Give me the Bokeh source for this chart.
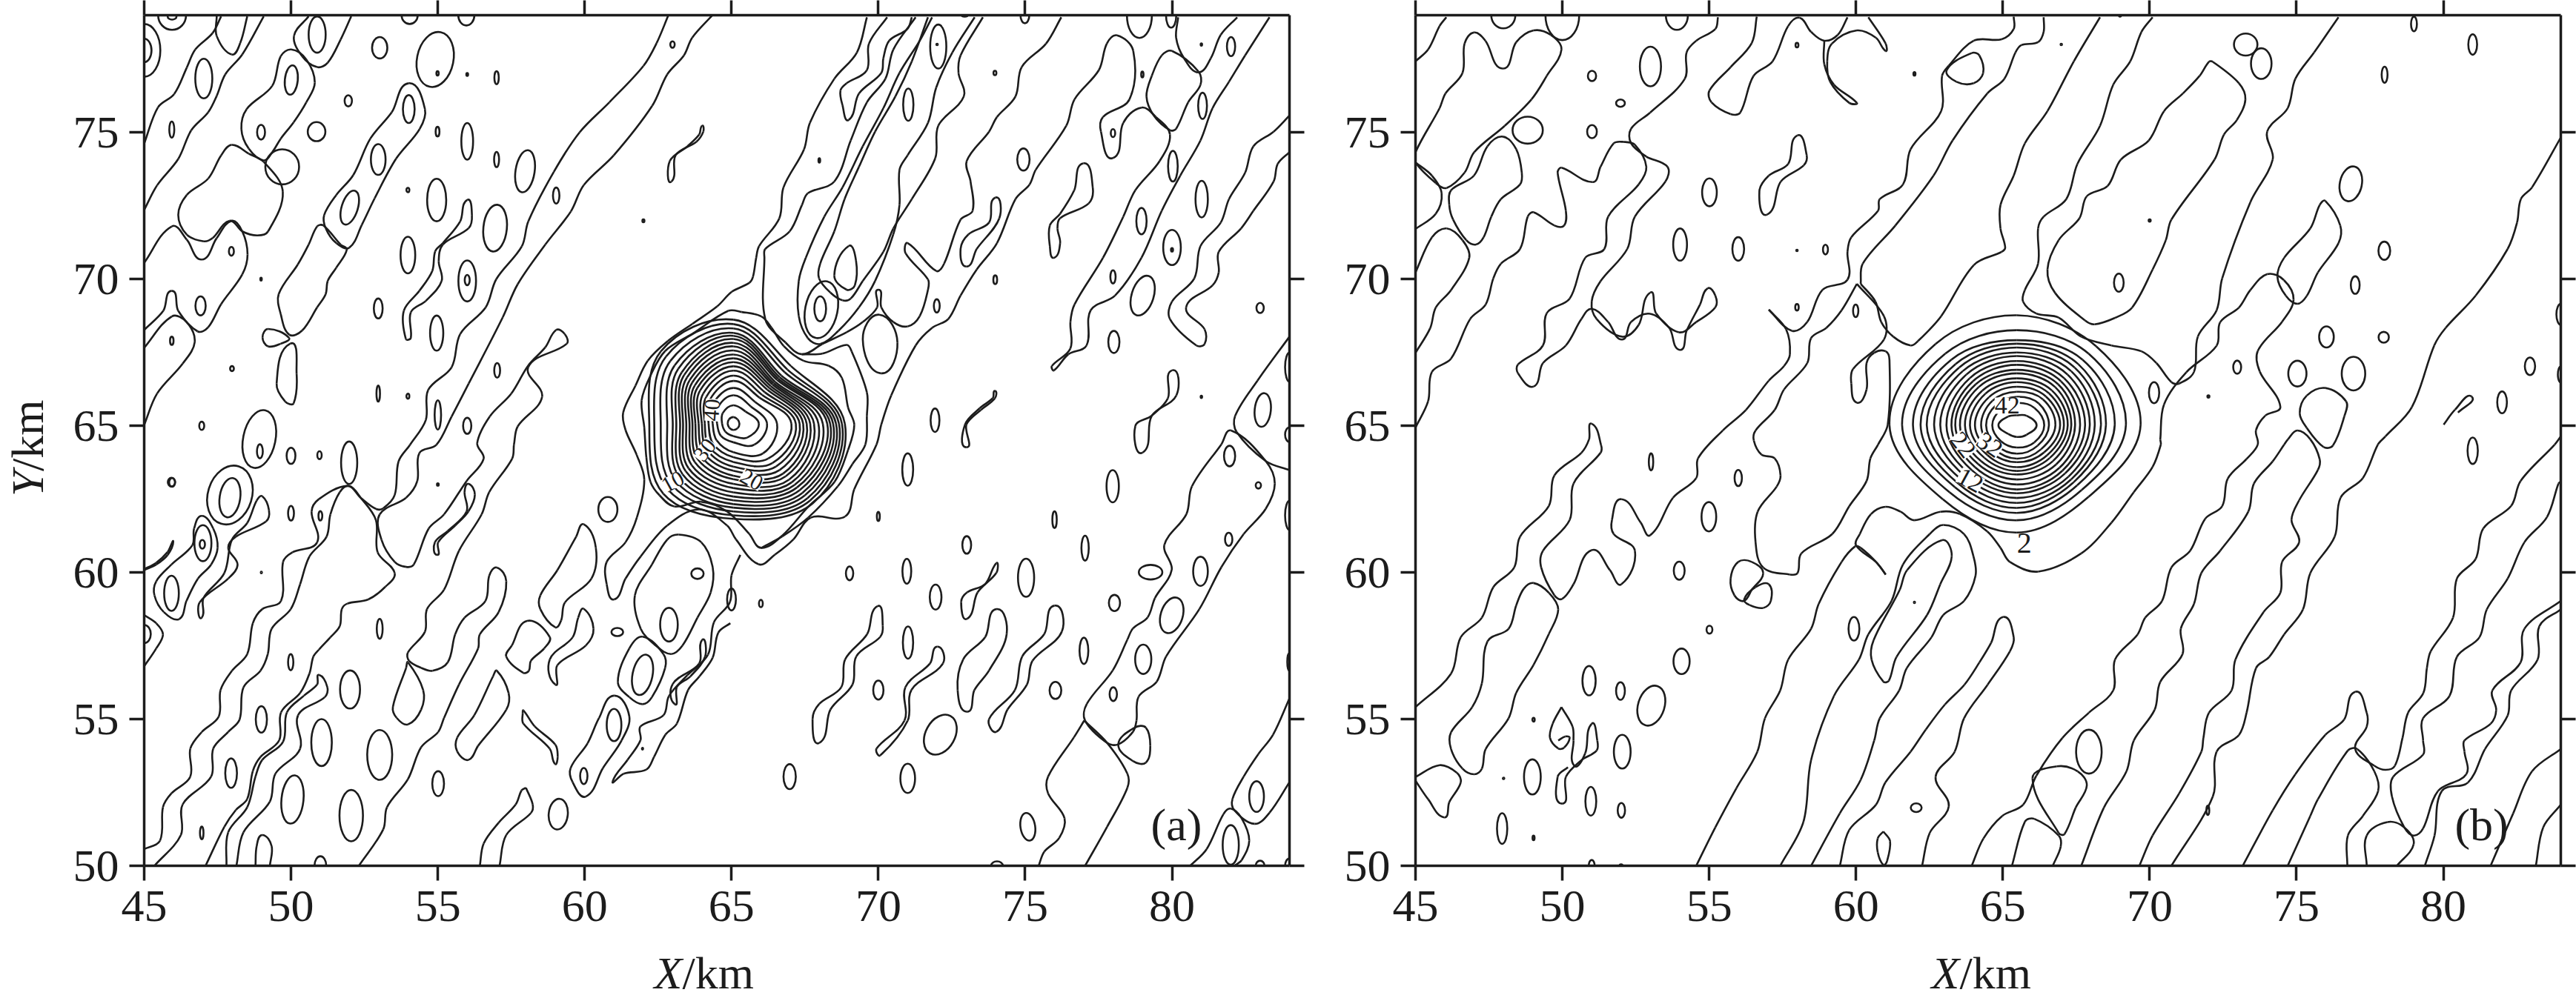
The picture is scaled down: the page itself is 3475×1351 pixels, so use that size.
import math
import re
from bokeh.plotting import figure
from bokeh.core.properties import value
from bokeh.models import ColumnDataSource, FixedTicker, Label, LinearAxis, Range1d
from bokeh.layouts import row, column
from bokeh.embed import file_html
from bokeh.resources import INLINE

X_TICKS = [45, 50, 55, 60, 65, 70, 75, 80]
Y_TICKS = [50, 55, 60, 65, 70, 75]
X_RANGE = (45, 84)
Y_RANGE = (50, 79)
INK = "#1c1c1c"
FONT = "Liberation Serif"

# ---- panel (a): core rings, radii (km) per azimuth from the centre
A_CORE = (65.06, 65.07)
A_R_E = [.21,.87,1.15,1.49,1.98,2.13,2.26,2.38,2.5,2.62,2.75,2.9,3.05,3.2,3.3,3.4,3.5,3.6,3.7,3.8]
A_R_NE = [.21,.59,.84,1.05,1.26,1.39,1.52,1.64,1.73,1.81,1.89,1.95,2.02,2.11,2.17,2.24,2.32,2.48,2.61,2.78]
A_R_N = [.23,.63,.97,1.22,1.46,1.64,1.81,1.96,2.10,2.23,2.36,2.50,2.64,2.76,2.89,3.0,3.1,3.25,3.4,3.55]
A_R_NW = [.21,.51,.76,.97,1.14,1.30,1.45,1.60,1.73,1.85,1.98,2.10,2.23,2.36,2.48,2.65,2.82,3.03,3.24,3.49]
A_R_W = [.19,.38,.55,.70,.84,.97,1.07,1.18,1.29,1.39,1.49,1.60,1.71,1.81,1.94,2.06,2.25,2.47,2.69,2.86]
A_R_SW = [.19,.38,.59,.80,.97,1.14,1.26,1.41,1.56,1.71,1.85,2.0,2.15,2.29,2.44,2.59,2.76,2.95,3.16,3.37]
A_R_S = [.21,.42,.63,.97,1.14,1.30,1.46,1.60,1.77,1.89,2.05,2.19,2.34,2.48,2.61,2.74,2.86,2.99,3.12,3.24]
A_R_SE = [.21,.67,1.01,1.43,1.68,1.89,2.06,2.23,2.40,2.53,2.69,2.82,2.95,3.07,3.20,3.33,3.45,3.58,3.70,3.83]

# ---- panel (b): core rings
B_CORE = (65.48, 65.02)
B_R_E = [.67,.93,1.09,1.31,1.47,1.6,1.73,1.85,1.98,2.15,2.32,2.48,2.65,2.86,3.03,3.33,3.71,4.21]
B_R_NE = [.46,.84,1.05,1.25,1.39,1.54,1.68,1.84,1.98,2.12,2.27,2.44,2.61,2.78,2.95,3.16,3.45,3.81]
B_R_N = [.34,.76,.97,1.14,1.31,1.47,1.6,1.77,1.89,2.06,2.19,2.36,2.48,2.65,2.78,2.9,3.24,3.75]
B_R_NW = [.42,.77,.99,1.18,1.35,1.52,1.67,1.84,1.98,2.12,2.27,2.44,2.61,2.78,2.95,3.16,3.45,3.92]
B_R_W = [.63,.84,1.05,1.22,1.43,1.6,1.77,1.94,2.1,2.23,2.4,2.61,2.82,3.07,3.28,3.54,3.91,4.34]
B_R_SW = [.42,.77,.97,1.12,1.28,1.43,1.57,1.73,1.87,2.02,2.17,2.32,2.48,2.65,2.82,2.99,3.24,3.57]
B_R_S = [.4,.76,.97,1.14,1.26,1.43,1.56,1.68,1.85,2.02,2.19,2.32,2.48,2.65,2.82,2.99,3.24,3.66]
B_R_SE = [.46,.83,.99,1.16,1.31,1.45,1.58,1.73,1.89,2.05,2.19,2.32,2.48,2.61,2.74,2.9,3.12,3.45]

# ---- panel (a): small closed islands (x, y, w, h, tilt)
A_ISLANDS = [
(45,77.8,1.1,1.8,0),(45,77.8,.5,.8,0),(45.95,79,.95,1.0,0),(45.95,78.95,.3,.2,0),(47.03,76.84,.58,1.35,0),(50.01,76.79,.44,1.0,-.1),
(50.89,78.34,.58,1.24,0),(53.02,77.89,.52,.73,0),(54.04,79,.55,.6,0),(55.97,79,.55,.7,0),(54.91,77.49,1.24,1.9,-.2),(54.99,77.02,.08,.15,0),
(56,76.98,.06,.1,0),(57,76.87,.15,.45,0),(51.95,76.08,.25,.38,0),(45.94,75.1,.17,.55,0),(48.98,75.01,.27,.5,0),(50.87,75.03,.6,.65,0),
(54.99,75.03,.13,.33,0),(56,74.7,.4,1.25,0),(57,74.08,.17,.52,0),(57.97,73.68,.65,1.45,-.15),(59.03,72.85,.22,.55,0),(62,71.99,.07,.1,0),
(47.97,70.95,.17,.3,0),(48.98,70,.05,.1,0),(46.92,69.09,.35,.65,0),(45.94,67.9,.12,.28,0),(47.99,66.95,.13,.17,0),(49.7,73.83,1.15,1.2,0),
(54.01,75.8,.4,.95,0),(52.97,74.08,.5,1.05,0),(52.0,72.44,.55,1.2,-.3),(53.98,73.04,.1,.15,0),(54.96,72.7,.65,1.45,0),(56.95,71.74,.8,1.6,-.1),
(53.98,70.82,.5,1.25,0),(56,69.94,.6,1.4,0),(56,69.97,.17,.35,0),(52.97,69,.3,.68,0),(54.96,68.16,.45,1.2,0),(57.02,66.89,.2,.5,0),
(52.97,66.1,.12,.55,0),(53.98,66.01,.1,.17,0),(46.96,65,.17,.28,0),(55,65.37,.22,1.0,0),(56,65,.28,.55,0),(48.92,64.55,1.1,2.0,-.2),
(48.94,64.13,.2,.48,0),(50,63.98,.3,.55,0),(50.97,64,.15,.27,0),(45.93,63.08,.25,.3,0),(51.98,63.74,.55,1.45,0),(47.92,62.64,1.5,2.05,-.3),
(47.92,62.55,.7,1.35,-.15),(47,61,.58,1.23,0),(46.98,60.96,.18,.3,0),(45.93,59.29,.5,1.2,0),(45,57.9,.45,.62,0),(45.95,63.07,.2,.3,0),
(50,62.02,.2,.5,0),(51,61.93,.13,.32,0),(48.99,60,.04,.05,0),(55,63,.06,.08,0),(53.02,58.08,.2,.68,0),(49.99,56.94,.18,.55,0),
(52.01,56.01,.68,1.3,0),(48.99,54.99,.38,.9,0),(51.04,54.2,.7,1.6,0),(53.02,53.78,.85,1.7,0),(47.96,53.16,.4,1.0,0),(50.05,52.26,.75,1.65,-.1),
(52.05,51.71,.8,1.75,0),(46.96,51.12,.12,.43,0),(51,50,.4,.65,0),(60.79,62.15,.65,.85,0),(63.84,59.96,.42,.36,0),(62.87,58.22,.6,1.15,0),
(61.11,57.97,.4,.28,0),(61.97,56.51,.68,1.4,-.2),(61,54.8,.5,1.1,0),(59.97,53.06,.25,.55,0),(61.97,53.99,.04,.06,0),(55.01,52.8,.4,.85,0),
(59.1,51.76,.65,1.05,-.1),(72.04,77.93,.55,1.5,0),(72,78,.05,.05,0),(71.02,75.95,.35,1.1,0),(73.97,77.03,.1,.15,0),(67.99,74.05,.06,.15,0),
(62.99,78,.15,.22,0),(72.94,79,.2,.1,0),(74.99,79,.3,.55,0),(74.94,74.08,.42,.75,0),(78.89,79,.85,1.55,0),(79.97,79,.35,.85,0),
(82.01,77.93,.28,.65,0),(81,78,.05,.08,0),(78.99,76.98,.08,.2,0),(81.04,75.91,.3,.9,0),(77.99,74.98,.15,.27,0),(80.03,73.85,.33,1.05,0),
(81.01,72.73,.42,1.25,0),(78.96,71.98,.35,.9,0),(80,71.08,.6,1.2,0),(80,71.0,.07,.12,0),(77.99,70.08,.18,.45,0),(73.98,69.98,.13,.3,0),
(71.99,69.09,.2,.45,0),(79,69.44,.75,1.4,-.3),(78.02,67.86,.38,.75,0),(83,69.02,.25,.35,0),(68.06,68.96,1.1,1.97,-.2),(68.02,68.99,.4,.85,0),
(71.93,65.19,.3,.8,0),(81,65.99,.05,.08,0),(83.09,65.54,.55,1.15,-.1),(84,67,.3,1.0,0),(84,64.7,.3,.5,0),(84,61.95,.3,1.0,0),(84,56.95,.15,.6,0),
(82.94,62.97,.18,.22,0),(81.96,63.97,.38,.7,0),(77.98,62.94,.42,1.1,0),(81.93,61.13,.25,.45,0),(80.97,60.04,.5,1.0,0),(79.27,60.01,.8,.5,0),
(79.99,58.54,.75,1.25,-.3),(78.04,58.96,.38,.55,0),(79.02,57.04,.55,1.0,0),(78,55.85,.25,.47,0),(77,57.33,.3,.9,0),(76.03,55.98,.4,.58,0),
(77.04,60.83,.25,.85,0),(76,61.8,.15,.57,0),(75.03,59.82,.55,1.3,0),(73.01,60.94,.3,.6,0),(70.97,60.04,.3,.85,0),(71.95,59.16,.4,.85,0),
(71.01,57.61,.35,1.1,0),(70,55.99,.35,.65,0),(69.02,59.97,.25,.47,0),(66,58.94,.13,.25,0),(65,59.08,.3,.75,0),(70,61.91,.1,.32,0),
(71,63.51,.37,1.1,0),(66.98,53.04,.42,.85,0),(71,52.98,.5,1.0,0),(75.09,51.33,.5,.95,.15),(72.11,54.47,1.0,1.45,-.5),(74.04,50,.4,.3,0),
(82,50.71,.55,1.35,0),(82.88,52.36,.5,1.05,0),(83,50,.3,.35,0),(84,50,.3,.5,0),
]

# ---- panel (a): contour lines (km)
A_L01 = [(45,50.57),(45.54,50.86),(45.64,52),(45.93,52.47),(46.57,53.04),(46.57,53.99),(46.96,54.56),(47.54,55.09),(47.6,55.99),(47.99,56.65),(48.51,57.22),(48.7,58.27),(49.02,58.75),(49.66,59.03),(49.73,60.36),(50.05,60.69),(50.89,61.03),(50.7,62.07),(50.95,62.5),(51.92,62.95),(52.37,62.55),(52.89,62.17),(53.14,62.19),(53.53,62.64),(53.66,63.78),(54.05,64.35),(54.59,65.2),(54.67,66.22),(55.47,67),(55.76,68.13),(56.63,69.04),(56.99,70),(57.86,71.12),(58.08,71.97),(58.95,73.66),(59.83,75.01),(60.84,76.03),(62,77.27),(62.45,78.05),(62.85,79)]
A_L02 = [(45,74.62),(45.47,75.86),(46.02,76.31),(46.45,77.21),(46.74,77.83),(47.33,78.39),(47.62,78.96)]
A_L03 = [(45,72.36),(45.44,73.2),(46.16,74.1),(46.6,75.07),(47.18,75.69),(47.47,76.25),(47.76,76.98),(48.34,77.66),(49.07,78.96)]
A_L04 = [(47.47,78.96),(47.47,78.29),(47.98,77.66),(48.27,78.05),(48.51,78.96)]
A_C05 = [(49.07,74.05),(48.56,74.45),(48.31,75.12),(48.49,75.8),(49.36,76.59),(49.65,77.6),(50.01,77.83),(50.52,77.49),(50.81,76.7),(50.52,76.03),(50.09,75.35),(49.65,74.79),(49.36,74.33)]
A_L06 = [(50.6,78.96),(50.1,78.29),(50.38,77.6),(50.89,77.23),(51.25,77.38),(51.69,78.17),(52.05,78.96)]
A_C07 = [(47.98,74.58),(48.56,74.28),(49.07,74),(49.72,72.98),(49.22,71.63),(48.85,71.49),(48.34,71.63),(47.91,71.99),(47.33,71.4),(47.03,71.29),(46.45,71.52),(46.16,72.19),(46.45,72.87),(47.18,73.43),(47.62,74.22)]
A_L08 = [(45,68.27),(45.65,68.92),(45.94,69.6),(46.16,68.92),(46.82,68.22),(47.18,68.36),(47.62,69.15),(48.34,70.16),(48.52,70.84),(48.34,71.63),(47.98,71.99),(47.47,71.4),(46.96,70.67),(46.45,71.35),(45.94,71.8),(45,70.56)]
A_L09 = [(45,67.66),(45.94,68.73),(46.45,68.53),(46.72,67.85),(46.31,67.12),(45.44,66.1),(45,65.03)]
A_C10 = [(51.1,71.83),(51.69,71.18),(51.9,71.01),(51.54,70.39),(51.25,69.94),(51.18,69.49),(50.89,69.04),(50.38,68.25),(49.94,68.11),(49.65,68.81),(49.58,69.49),(50.23,70.5),(50.6,71.18),(50.89,71.8)]
A_C11 = [(54.01,76.68),(54.56,75.8),(54.38,75.12),(53.58,74.11),(52.85,72.76),(52.41,71.85),(51.98,71.07),(51.54,71.23),(51.18,71.74),(51.13,72.19),(51.54,72.87),(52.12,73.55),(52.7,74.79),(53.43,75.69)]
A_C12 = [(56,72.7),(56.16,72.19),(56.05,71.74),(55.17,71.18),(55.03,70.61),(55.13,69.94),(54.59,69.26),(54.08,68.87),(54.08,68),(53.91,67.96),(53.84,68.92),(54.37,69.6),(54.81,70.28),(54.91,70.95),(55.17,71.23),(55.76,71.97)]
A_C13 = [(49.97,67.8),(50.19,66.78),(50.09,65.77),(49.8,65.83),(49.51,66.44)]
A_C14 = [(49.93,68),(49.22,68.3),(49.03,68.02),(49.22,67.71),(49.65,67.8)]
A_L15 = [(47.09,50),(47.73,51.33),(48.12,51.9),(48.51,52.28),(48.7,53.23),(48.96,53.71),(49.6,54.28),(49.66,55.23),(50.31,55.89),(50.63,56.56),(50.76,57.13),(50.95,57.37),(51.34,57.79),(51.66,58.17),(51.73,58.75),(51.92,58.94),(52.63,59.08),(53.21,59.51),(53.53,59.98),(52.95,60.69),(52.89,61.79),(52.37,62.55),(51.98,62.95),(51.66,62.74),(51.34,61.98),(51.21,61.22),(50.63,60.55),(50.31,59.6),(49.99,58.75),(49.34,58.08),(49.21,57.22),(48.96,56.65),(48.38,56.08),(48.25,54.99),(47.86,54.56),(47.35,53.99),(47.28,53.04),(46.31,52.09),(46.25,51.05),(45.35,50)]
A_L16 = [(47.8,50),(47.86,51.14),(48.51,52),(48.79,53.04),(49.02,53.61),(49.73,54.23),(49.86,55.23),(50.44,55.8),(50.89,56.18),(50.95,56.51),(51.24,56.08),(51.15,55.75),(50.24,55.13),(50.31,53.99),(49.47,53.14),(49.28,52.19),(48.38,51.14),(48.14,50)]
A_C17 = [(46.96,58.46),(46.89,58.98),(47.86,59.79),(48.18,60.27),(47.86,60.84),(48.12,61.22),(49.15,61.74),(49.25,62.12),(49.02,62.6),(48.83,62.45),(48.51,61.69),(47.99,61.12),(47.73,59.98),(47.02,59.13)]
A_C18 = [(46.19,58.41),(45.67,58.65),(45.35,59.22),(45.41,59.7),(45.93,60.27),(46.64,60.93),(46.7,61.5),(46.96,61.93),(47.35,61.5),(47.5,60.84),(47.28,60.27),(46.83,59.79),(46.44,59.03)]
A_L19 = [(45,60.08),(45.41,60.27),(45.8,60.6),(45.99,61.05),(45.8,60.7),(45.41,60.33),(45,60.11)]
A_L20 = [(45,58.55),(45.41,58.27),(45.64,57.89),(45.41,57.41),(45,56.8)]
A_L21 = [(48.79,50),(48.83,50.67),(49.02,51.05),(49.34,50.67),(49.28,50)]
A_C22 = [(58.04,58.35),(58.81,57.8),(58.62,57.41),(58.17,56.99),(58.1,56.65),(57.91,56.58),(57.33,57.13),(57.52,57.51)]
A_C23 = [(59.97,61.64),(60.38,60.84),(60.23,59.79),(59.33,58.98),(59.2,58.37),(59,58.13),(58.49,58.75),(58.49,59.22),(59.07,60.08),(59.71,61.22)]
A_C24 = [(59.97,58.76),(60.3,58.08),(60.04,57.51),(59.07,56.84),(59,56.18),(58.81,57.03),(59.59,57.79),(59.78,58.46)]
A_L25 = [(57.59,64.35),(57.72,64.98),(58.55,65.99),(58.08,67),(59.39,67.8),(59.32,68.13),(59.03,68.27),(58.66,67.68),(58.08,67.06),(57.5,66.1),(56.77,65.32),(56.34,64.41),(56.56,63.88),(55.98,63.12),(55.21,61.98),(54.69,61.5),(54.18,60.27),(53.92,60.19),(53.53,60.36),(53.08,61.12),(53.02,61.98),(53.92,62.55),(54.3,63.12),(54.37,64.07),(54.95,64.35),(55.47,65.32),(56.05,66.44),(57.21,68.7),(57.72,69.83),(58.66,71.18),(59.53,72.31),(59.97,73.21),(60.99,74.22),(62.3,75.91),(62.81,76.98),(63.38,77.63),(63.66,78.23),(64.35,79)]
A_L26 = [(57.59,64.35),(57.53,63.88),(56.75,62.74),(56.49,61.98),(55.72,60.74),(55.21,59.41),(54.63,58.75),(54.56,57.98),(53.98,57.27),(54.02,56.99),(54.43,56.75),(54.82,56.65),(55.34,56.94),(55.59,57.89),(55.91,58.46),(56.62,59.03),(56.75,59.89),(57.01,60.17),(57.33,59.7),(57.07,58.65),(56.43,57.89),(56.37,57.41),(55.72,56.18),(55.21,55.04),(55.01,54.56),(54.43,54.04),(53.98,52.95),(53.27,52),(53.14,51.24),(52.31,50)]
A_C27 = [(56.04,63.02),(56.26,62.65),(56.04,62.08),(55.59,61.6),(55.01,61.03),(54.98,60.6),(54.9,61.03),(55.33,61.41),(55.98,62.08),(55.91,62.74)]
A_C28 = [(63.2,61.29),(63.97,61.03),(64.36,60.17),(64.29,59.32),(63.84,58.46),(63.33,57.51),(62.94,57.22),(62.42,57.51),(61.91,58.08),(61.71,59.22),(62.29,60.27),(62.81,61.12)]
A_C29 = [(61.97,57.81),(62.68,57.22),(62.74,56.75),(62.29,55.75),(61.97,55.51),(61.52,55.75),(61.13,56.27),(61.52,57.41)]
A_C30 = [(61,55.8),(61.52,55.09),(61.26,54.28),(60.62,53.33),(60.04,52.36),(59.59,52.85),(59.52,53.33),(60.1,54.18),(60.49,55.04)]
A_C31 = [(64,57.7),(64.1,57.13),(63.6,56.46),(63.14,56.1),(63.07,55.51),(63,56.2),(63.9,56.9)]
A_L32 = [(64.96,58.27),(64.55,57.95),(64.36,57.1),(63.91,56.46),(63.52,55.99),(63.14,54.85),(62.75,54.47),(62.36,53.71),(62.1,53.28),(61.33,53.14),(60.95,52.87),(61.46,53.61),(61.9,54.28),(61.9,54.75),(62.68,55.13),(62.87,55.79),(63.5,56.5),(64.2,57.2),(64.4,58.3),(64.95,59.0),(65,59.9),(65.3,60.6)]
A_L33 = [(69.61,78.93),(69.27,77.73),(68.5,76.83),(67.67,75.33),(67.47,74.43),(66.77,73.13),(66.63,72.08),(65.94,71.13),(65.84,70.73),(65.73,70.08),(65.6,69.87),(65.01,69.57),(64.51,69.07),(63.67,68.48),(62.83,67.89),(62.15,67.22),(61.73,66.37),(61.31,65.45),(61.39,64.86),(61.77,64.01),(62.03,63.17),(61.78,61.88),(61.39,61.03),(60.75,60.36),(60.75,59.6),(61,59.08),(61.39,59.79),(61.91,60.55),(62.81,61.6),(63.9,62.15),(64.85,61.6),(65.15,61.13),(65.92,60.28),(66.48,60.61),(67.11,61.13),(67.7,61.87),(68.87,61.91),(69.18,62.84),(69.94,64.37),(70.1,65.04),(70.44,66.04),(71.27,67.74),(71.83,68.34),(72.38,68.64),(72.8,69.44),(73.35,70.33),(74.04,71.23),(74.67,72.73),(75.15,73.23),(75.36,73.73),(76.4,75.23),(76.68,76.13),(77.51,77.13),(77.78,78.03),(78.13,78.31),(78.68,77.78),(78.55,76.13),(77.65,75.53),(77.58,75.03),(77.99,74.13),(78.34,75.33),(78.96,75.85),(79.45,75.53),(79.93,74.93),(79.58,74.03),(78.75,73.03),(78.34,72.13),(77.65,70.73),(76.68,69.14),(76.54,68.54),(76.54,67.64),(75.91,67.04),(75.98,66.89),(76.47,67.44),(77.09,67.74),(77.23,68.94),(78.06,69.44),(78.96,70.73),(79.65,72.33),(80.28,73.53),(80.97,74.73),(81.38,75.83),(81.94,76.73),(82.49,77.63),(83.32,78.93)]
A_C34 = [(64.89,68.92),(65.35,68.88),(66.02,68.73),(66.36,68.35),(66.78,67.72),(67.45,67.22),(68.3,67.05),(68.76,66.63),(68.97,65.62),(69.18,65.03),(68.97,64.18),(68.51,63.09),(67.62,62.25),(66.74,61.27),(66.01,60.84),(65.6,61.32),(64.85,62.08),(63.96,62.41),(63.05,62.25),(62.55,62.63),(62.24,63.09),(62.1,63.93),(62.03,64.94),(61.94,65.87),(62.24,66.71),(62.74,67.55),(63.67,68.14)]
A_L35 = [(71.27,78.93),(70.51,77.83),(70.24,76.83),(69.61,76.03),(69.06,74.73),(68.5,73.33),(67.6,72.93),(67.4,72.53),(66.98,71.63),(66.15,71.03),(66.12,70.73),(66.15,68.64),(66.84,67.84),(67.4,67.44),(68.09,67.79),(68.92,68.19),(69.47,68.54),(69.96,69.04),(70,69.64),(70.1,69.04),(70.51,68.54),(71,68.39),(71.41,68.74),(71.69,69.64),(71.69,69.99),(70.93,70.88),(71,71.23),(71.97,70.28),(72.24,70.53),(72.8,72.03),(73.21,72.33),(73.14,73.33),(73.01,74.03),(73.77,75.03),(74.04,75.53),(74.67,76.23),(74.88,77.23),(75.71,78.03),(76.23,78.93)]
A_L36 = [(67.4,67.44),(68.09,67.46),(68.92,67.76),(69.09,67.54),(69.61,66.14),(69.61,65.34),(69.56,64.37),(69.12,63.7),(68.62,62.94),(67.61,61.87),(66.73,61.23),(66,60.83)]
A_L37 = [(70.3,78.93),(69.68,78.03),(69.61,77.13),(68.92,76.68),(68.71,76.43),(68.78,75.93),(68.99,75.43),(69.34,76.33),(70.1,77.03),(70.17,77.53),(70.37,78.13),(70.99,78.53),(71.14,78.93)]
A_L38 = [(71.83,78.93),(71.41,78.13),(70.72,77.03),(70.17,75.83),(69.47,74.53),(68.78,73.13),(68.16,72.13),(67.53,70.73),(67.29,69.94),(67.29,68.74),(67.6,67.99),(68.02,67.79),(68.64,68.24),(69.34,69.04),(69.89,69.94),(70.51,71.53),(70.72,72.53),(70.72,73.73),(71,74.23),(71.69,75.33),(71.97,76.53),(72.52,77.73),(73.28,78.93)]
A_L39 = [(71.69,78.93),(71.14,77.43),(70.58,76.23),(69.89,75.03),(69.34,73.83),(68.85,72.73),(68.5,71.63),(68.02,70.53),(67.98,70.03),(68.37,69.54),(68.78,69.28),(69.06,69.34),(69.47,69.94),(70.17,70.93),(70.51,71.73),(71.14,72.73),(71.94,74.13),(72.04,75.23),(72.91,76.23),(72.73,77.03),(72.8,77.63),(73.56,78.93)]
A_C40 = [(68.99,71.13),(69.24,70.63),(69.2,69.79),(68.92,69.64),(68.5,70.13)]
A_C41 = [(70.03,68.79),(70.65,67.84),(70.09,66.79),(69.47,67.95)]
A_C42 = [(76.98,73.95),(77.3,73.13),(77.16,72.58),(76.19,72.08),(76.1,71.73),(76.19,71.23),(75.98,70.73),(75.84,71.13),(75.84,71.83),(76.19,72.23),(76.67,73.03)]
A_C43 = [(73.98,72.78),(74.12,72.08),(73.35,71.03),(73,70.43),(72.8,71.03),(73.07,71.53),(73.77,71.93)]
A_L44 = [(80.21,78.93),(80.14,78.23),(80.41,77.53),(80.9,77.05),(81.32,77.53),(81.66,78.33),(82.22,78.93)]
A_C45 = [(80,77.78),(80.9,77.08),(80.97,76.63),(80.55,76.03),(80.14,75.13),(79.93,75.08),(79.38,75.58),(79.13,76.23),(79.31,76.93),(79.65,77.63)]
A_L46 = [(84,75.58),(83.46,75.03),(82.77,74.53),(82.49,73.63),(81.94,72.73),(81.66,71.93),(80.97,71.13),(80.76,70.03),(80,69.24),(79.93,68.64),(80.83,67.74),(81.11,67.79),(81.11,68.29),(80.48,69.04),(81.38,69.79),(81.59,70.23),(81.59,70.93),(82.35,71.73),(82.77,72.33),(83.46,73.33),(83.6,73.93),(84,74.33)]
A_L47 = [(84,68.04),(82.91,66.54),(82.15,65.34),(82.2,64.79),(83.19,63.8),(84,63.49)]
A_C48 = [(82.01,64.84),(83.19,63.8),(83.5,63.03),(83.19,62.17),(82.44,61.31),(81.68,60.18),(80.93,58.75),(79.8,57.14),(79.48,56.28),(78.86,55.76),(78.79,54.95),(78.67,54.57),(78.17,54.14),(77.79,54.19),(77.04,54.95),(77.1,55.52),(77.98,56.66),(78.48,57.71),(78.67,58.09),(79.17,58.47),(79.42,59.13),(79.99,60.09),(79.74,60.94),(80.49,61.99),(80.68,62.94),(81.68,64.37)]
A_L49 = [(77.01,54.95),(76.66,54.38),(75.78,53.04),(75.78,52.47),(76.34,51.62),(76.16,50.95),(75.65,50.48),(75.46,50)]
A_L50 = [(77.01,54.95),(77.79,54.19),(78.48,53.14),(78.48,52.66),(77.79,51.33),(77.04,50)]
A_C51 = [(78.17,54.14),(78.73,54.71),(79.11,54.71),(79.26,54.09),(79.11,53.52),(78.67,53.57)]
A_L52 = [(84,55.71),(83.44,54.47),(82.94,53.81),(82.44,53.04),(82.06,52.28),(82.12,51.9),(82.81,51.43),(83.32,51.81),(84,52.85)]
A_L53 = [(80.62,50),(81.18,50.57),(81.75,51.76),(82,51.95),(82.37,51.62),(82.63,50.86),(82.37,50.19),(82.13,50)]
A_C54 = [(69.97,58.85),(70.15,58.18),(70.06,57.8),(69.25,57.14),(69.12,56.18),(68.37,55.33),(67.99,54.19),(67.76,55),(67.99,55.52),(68.74,56.09),(68.87,57.04),(69.62,57.9)]
A_C55 = [(72.01,57.47),(72.2,56.9),(71.13,56),(71,54.95),(70.06,53.76),(69.94,54),(70.89,54.95),(70.92,56.09),(71.76,56.9)]
A_C56 = [(74.02,58.75),(74.37,57.9),(73.77,56.66),(73.27,55.99),(73.02,55.25),(72.7,55.99),(72.89,57.04),(73.64,57.8)]
A_C57 = [(76,58.87),(76.25,57.99),(75.25,56.99),(75.06,56.18),(74.4,55.33),(74.02,54.57),(73.77,55),(74.65,55.99),(74.9,57.14),(75.65,57.9)]
A_C58 = [(74.02,60.32),(74.02,59.99),(73.38,59.32),(73.02,58.42),(72.82,58.99),(73.02,59.32),(73.64,59.61)]
A_C59 = [(73.97,66.19),(73.97,65.94),(73.49,65.54),(73,65.04),(73,64.27),(72.95,65.04),(73.45,65.6),(73.9,65.95)]
A_C60 = [(80,66.89),(80.15,66.04),(79.31,65.34),(79,64.09),(78.75,64.99),(79.3,65.34),(79.86,65.94)]
A_C61 = [(64,75.23),(64.04,75.03),(63.8,74.68),(63.1,74.23),(62.96,73.33),(62.9,74.03),(63.5,74.53),(63.9,74.93)]
A_C62 = [(57.91,55.3),(58.3,54.75),(59,54.13),(59.08,53.71),(58.99,53.47),(58.81,53.99),(57.91,54.85),(57.89,55.2)]
A_C63 = [(57.01,56.65),(57.41,55.89),(57.33,55.32),(56.37,54.09),(56.04,53.61),(55.66,53.9),(55.66,54.37),(56.24,55.13),(56.88,56.46)]
A_C64 = [(53.98,56.94),(54.5,55.99),(54.43,55.32),(53.98,54.82),(53.6,55.04),(53.47,55.42),(53.92,56.75)]
A_L65 = [(58,52.66),(58.23,52.09),(58.17,51.8),(57.33,51.05),(57.1,50)]
A_L66 = [(58,52.66),(57.85,52.57),(57.65,52.09),(57.07,51.47),(56.56,50.76),(56.43,50)]

A_TEXT = ["40", "30", "20", "10"]
A_TEXT_X = [64.34, 64.09, 65.68, 63.0]
A_TEXT_Y = [65.54, 64.17, 63.16, 63.09]
A_TEXT_ANGLE = [1.5, .9, -.5, .5]

# ---- panel (b): islands
B_ISLANDS = [
(47.99,79,.82,.9,0),(50,79,1.15,1.7,0),(53.9,79,.75,1.0,0),(48.82,75.08,1.03,.92,0),(57.99,77.98,.1,.15,0),(61.99,77,.07,.12,0),
(53,77.25,.72,1.35,0),(51.01,76.93,.28,.35,0),(51.98,76,.3,.25,0),(51.01,75.03,.33,.45,0),(55.01,72.96,.5,.95,0),(54.01,71.18,.47,1.1,0),
(55.99,71.03,.4,.8,0),(57.99,70.98,.05,.05,0),(58.96,71.01,.17,.33,0),(57.99,69.04,.12,.22,0),(59.99,68.92,.18,.43,0),
(53.02,63.77,.15,.58,0),(55.99,63.22,.25,.55,0),(54.99,61.9,.5,1.0,0),(53.98,60.06,.37,.62,0),(55.01,58.05,.2,.27,0),(54.06,56.97,.55,.87,0),
(50.91,56.31,.45,1.0,0),(51.98,55.96,.3,.6,0),(53.03,55.46,.9,1.4,-.3),(49.02,54.98,.08,.13,0),(48.98,53.03,.57,1.2,0),(52.04,53.89,.57,1.15,0),
(48,52.98,.05,.05,0),(50.97,52.2,.37,.98,0),(52.01,51.89,.25,.5,0),(47.95,51.27,.35,1.05,0),(49.02,50.95,.07,.15,0),(59.93,58.08,.37,.8,0),
(62.05,51.98,.37,.3,0),(61.99,58.98,.04,.05,0),(51,50,.2,.4,0),(52,50,.1,.1,0),
(66.99,78,.05,.05,0),(68.99,79,.07,.1,0),(70,72,.07,.08,0),(72,66,.07,.08,0),(68.95,69.88,.33,.62,0),(73.27,78,.8,.75,0),(73.8,77.35,.7,1.05,0),
(79,78.7,.2,.5,0),(81,78,.3,.7,0),(78,76.97,.2,.55,0),(76.85,73.25,.75,1.2,-.2),(77.99,70.97,.4,.62,0),(77,69.8,.3,.6,0),(76.02,68.03,.5,.72,0),
(77.97,68.02,.35,.37,0),(72.98,67,.27,.45,0),(75.03,66.78,.62,.88,0),(76.94,66.78,.8,1.15,0),(70.15,66.13,.35,.72,0),(82.95,67.03,.35,.6,0),
(82,65.8,.33,.75,0),(81,64.15,.35,.9,0),(84,68.8,.3,.72,0),(84,66.75,.2,.55,0),(71.98,51.89,.1,.32,0),(67.93,53.89,.87,1.5,0),
]

# ---- panel (b): contour lines
B_L01 = [(45,77.43),(45.43,77.83),(45.82,78.63),(46.05,78.93)]
B_C02 = [(45,74.33),(45.82,75.83),(46.02,76.33),(46.6,77.03),(46.67,78.03),(46.99,78.41),(47.38,78.13),(47.97,77.18),(48.43,78.08),(49.02,78.48),(49.6,78.33),(49.97,77.83),(49.47,76.93),(48.95,76.13),(48.04,75.23),(47,74.33),(46.67,73.63),(46.06,73.11),(45.69,73.28),(45,73.98)]
B_L03 = [(45,73.98),(45.56,73.53),(45.89,72.93),(45.69,72.23),(45,71.71)]
B_C04 = [(47.97,74.86),(48.43,74.43),(48.62,73.63),(48.56,73.23),(47.91,72.73),(47.58,72.13),(47.32,71.43),(47.06,71.18),(46.73,71.33),(46.28,72.03),(46.15,72.53),(46.21,73.03),(46.99,73.53),(47.45,74.53)]
B_L05 = [(45,70.23),(45.56,71.43),(46.06,71.73),(46.6,71.33),(46.83,70.73),(46.21,69.63),(45.69,69.03),(45.5,68.33),(45,67.49)]
B_L06 = [(45,64.94),(45.43,65.84),(45.56,66.84),(46.21,67.29),(46.86,68.64),(47.39,69.14),(47.65,70.03),(47.91,70.53),(48.56,71.03),(48.82,72.13),(49.02,72.28),(49.73,71.83),(50.06,71.83),(50.12,72.33),(49.84,73.63),(49.97,73.8),(51.04,73.31),(51.3,73.83),(51.75,74.63),(52.08,74.68),(52.47,74.58),(52.86,73.83),(52.6,73.23),(51.56,72.13),(51.43,71.03),(50.78,70.73),(50.25,69.34),(49.47,68.84),(49.34,67.74),(48.49,67.09),(48.49,66.79),(49.02,66.34),(49.34,67.14),(50.12,67.74),(50.65,68.64),(51,68.99),(51.56,68.54),(52.03,67.94),(52.34,68.54),(52.99,68.82),(53.64,68.34),(54,67.59),(54.23,68.24),(54.69,69.14),(54.95,69.69),(55.21,69.44),(55.21,69.04),(54.56,68.54),(53.97,68.19),(53.19,68.84),(52.99,69.54),(52.6,68.44),(52.03,68.04),(51.17,68.64),(51,69.24),(51.3,69.93),(52.21,71.03),(52.47,72.13),(53.51,73.33),(53.58,73.83),(52.86,74.18),(52.34,74.63),(52.34,75.13),(52.99,75.68),(54.17,76.83),(54.23,77.73),(54.56,78.13),(55.21,78.53),(55.3,78.93)]
B_L07 = [(56.62,78.95),(56.45,78.05),(55.73,77.23),(55.01,76.43),(55.08,76.03),(55.73,75.63),(56.06,75.68),(56.51,76.93),(57.16,77.43),(57.69,78.63),(58.08,78.91),(58.47,78.43),(58.92,78.13),(59.38,78.33),(59.71,78.93)]
B_L08 = [(58.92,78.13),(58.92,77.33),(59.25,76.63),(60.03,76.01),(59.77,76.01),(59.12,76.73),(59.02,77.43),(59.18,78.03),(60.03,78.48),(60.68,78.23),(61.01,77.78),(61.01,78.03),(60.42,78.93)]
B_C09 = [(58,74.9),(58.32,74.23),(58.22,73.88),(57.44,73.33),(56.97,72.2),(56.71,73),(57.03,73.53),(57.69,73.93)]
B_L10 = [(45,55.41),(46.21,56.55),(46.54,57.79),(47.26,58.46),(47.65,59.5),(48.36,60.17),(48.56,61.22),(49.54,62.27),(49.73,63.31),(50.65,64.08),(50.91,64.54),(51,65.07),(51.32,64.34),(51.3,64.08),(50.38,63.03),(50.25,61.79),(49.34,60.74),(49.28,60.17),(49.73,59.22),(49.99,59.1),(50.38,59.6),(51,60.76),(51.62,60.08),(52.01,59.6),(52.47,60.74),(51.75,61.31),(51.69,61.79),(52.01,62.5),(52.67,61.7),(52.99,61.27),(53.77,62.55),(54.56,63.22),(54.62,63.89),(55.46,64.84),(56.25,65.54),(57.03,66.54),(57.55,67.04),(57.75,67.44),(57.62,68.29),(57.03,68.96)]
B_C11 = [(49.02,59.64),(49.55,59.3),(49.86,58.74),(49.54,57.9),(49.02,56.85),(48.43,55.9),(48.17,55.03),(47.39,53.98),(47.26,53.31),(47,53.12),(46.6,53.31),(46.21,53.98),(46.21,54.55),(46.93,55.41),(47.26,56.22),(47.45,57.65),(48.17,58.08),(48.43,58.88),(48.69,59.45)]
B_L12 = [(45,53.03),(45.82,53.43),(46.41,53.17),(46.54,52.84),(46.15,52.17),(45.98,51.65),(45.43,52.27),(45,52.9)]
B_L13 = [(49.97,55.41),(49.67,54.84),(49.58,54.36),(49.86,54),(50.06,54.03),(50.25,54.36),(50.1,54.41),(49.86,54.27)]
B_L14 = [(49.97,55.41),(50.35,54.74),(50.38,54.27),(50.41,53.41),(50.78,53.84),(51,54.84),(51.19,54.27),(51.17,53.93),(50.65,53.6),(50.12,53.03),(49.99,52.12),(49.84,53.03),(50.19,53.36)]
B_C15 = [(56.84,59.98),(56.45,60.36),(55.99,60.36),(55.73,59.79),(55.86,59.22),(56.18,59.03),(56.45,59.41)]
B_C16 = [(56.19,59.08),(56.58,59.5),(57.03,59.6),(57.1,59.03),(56.84,58.79),(56.38,58.89)]
B_L17 = [(60.03,69.84),(59.51,68.94),(58.99,68.34),(58.47,67.99),(58.34,67.14),(57.55,66.24),(57.23,65.54),(56.58,64.84),(56.52,64.5),(56.78,64.02),(57.23,63.89),(57.43,63.31),(57.3,62.93),(56.65,62.07),(56.58,61.03),(56.84,60.17),(57.75,59.93),(58.01,59.98),(58.14,60.65),(59.19,61.31),(59.77,62.26),(60.36,63.12),(60.49,63.89),(60.75,64.36),(61.08,65.04),(61.14,67.24),(61.01,67.54),(60.62,67.49),(60.36,67.14),(60.36,66.24),(60.03,65.79),(59.84,66.44),(59.9,66.94),(60.95,67.94),(60.95,68.74),(60.03,69.84)]
B_L18 = [(57.03,68.96),(57.82,68.24),(58.34,68.54),(58.86,69.64),(59.71,69.98),(59.71,70.93),(59.84,71.43),(60.75,72.33),(60.81,72.73),(61.6,73.23),(61.86,74.43),(62.9,75.73),(62.93,76.93),(63.16,77.28),(64.01,78.13),(64.96,78.18),(65.37,78.53),(65.37,78.95)]
B_C19 = [(63.09,77.13),(63.94,77.71),(64.2,77.63),(64.33,77.03),(64.01,76.68),(63.42,76.73)]
B_L20 = [(60.16,69.84),(60.23,70.53),(61.34,71.83),(62.64,73.53),(63.29,74.73),(64.47,76.33),(65.05,76.83),(65.43,77.73),(65.63,77.98),(66.2,78.08),(66.39,78.43),(66.39,78.93)]
B_L21 = [(60.16,69.84),(60.66,69.24),(60.86,68.54),(61.27,68.04),(61.86,67.74),(62.11,67.89),(62.9,68.74),(64.01,70.48),(64.96,70.93),(65.08,71.08),(64.92,71.73),(64.92,72.53),(65.37,73.53),(65.75,74.63),(66.52,75.73),(67.42,77.43),(68.31,78.93)]
B_L22 = [(70.1,78.93),(69.72,78.43),(69.34,77.43),(68.76,76.63),(68.31,75.23),(67.54,73.93),(67.16,72.73),(66.39,72.13),(66.2,71.73),(66.2,70.53),(65.75,69.63),(65.69,69.23),(66.14,68.83),(66.9,68.69),(67.67,68.04),(68.7,67.74),(69.72,67.54),(70.23,67.14),(70.74,66.49),(71,66.44),(71.51,66.84),(71.64,68.04),(72.28,68.94),(72.47,70.03),(73.43,72.63),(74.19,74.08),(74,75.03),(74.7,75.83),(74.96,76.83),(75.6,77.73),(76.43,78.93)]
B_C23 = [(72.02,77.41),(72.15,77.41),(73.04,76.68),(73.26,76.13),(72.97,75.43),(72.53,74.93),(72.21,74.08),(70.74,72.03),(70.55,71.33),(70.1,70.33),(69.4,69.03),(68.82,68.68),(68.12,68.46),(67.8,68.59),(66.78,69.53),(66.52,70.33),(66.9,71.33),(67.61,72.08),(67.86,72.83),(68.57,73.18),(69.02,74.08),(69.97,74.73),(70.49,75.73),(71.13,76.33),(71.7,76.93)]
B_L24 = [(70.36,64.53),(70.49,65.73),(71.25,66.83),(72.28,67.73),(72.4,68.53),(73.04,69.03),(73.43,69.63),(74,70.17),(74.57,69.97),(74.9,69.3),(74.51,68.55),(73.68,67.55),(73.75,66.85),(74.45,65.65),(73.94,65.35),(73.62,64.85),(73.68,64.36),(73.3,63.87),(72.66,63.2),(72.47,62.26),(71.89,61.83),(71.38,60.74),(70.74,60.17),(70.42,59.03),(69.85,58.46),(69.59,57.89),(68.82,57.03),(68.76,55.98),(67.93,55.22),(67.03,54.36),(66.14,53.07),(65.69,52.08),(64.98,51.7),(64.34,50.93),(63.94,50)]
B_L25 = [(70.36,64.53),(70.38,64.36),(70.1,63.6),(69.46,62.74),(68.7,61.7),(67.67,60.65),(66.2,60.03),(65.24,60.36),(64.92,60.84),(64.47,61.4),(63.54,61.99),(62.87,62.07),(61.98,61.78),(61.52,62.07),(61.01,62.24),(60.51,61.99),(60.13,61.31),(60.0,60.93),(60.68,60.36),(61.01,59.93),(60.68,60.36),(60.16,60.84),(59.97,60.89),(59.51,60.36),(58.73,58.93),(58.47,58.08),(57.69,57.03),(57.42,55.98),(56.9,55.03),(56.64,53.89),(55.93,52.65),(55.21,51.31),(54.56,50)]
B_C26 = [(62.93,61.1),(63.26,60.56),(62.87,59.6),(62.42,58.55),(61.38,57.12),(61.12,56.31),(60.93,56.28),(60.53,57.03),(60.6,57.69),(61.49,59.41),(61.74,60.08)]
B_L27 = [(57.42,50),(58.21,51.5),(58.47,53.6),(59.25,55.79),(60.1,57.03),(60.42,57.89),(61.21,59.03),(61.6,60.27),(62.51,61.31),(62.97,61.62),(63.68,61.31),(64,60.55),(64.07,59.89),(63.68,59.03),(62.97,58.55),(62.57,57.79),(61.73,56.74),(61.47,55.98),(60.81,55.03),(60.62,54.27),(60.16,52.93),(59.45,51.79),(58.47,50)]
B_L28 = [(59.45,50),(59.77,51.22),(60.68,52.08),(61,52.84),(61.86,53.89),(62.38,54.65),(63.03,55.5),(63.69,56.17),(64.2,56.93),(64.6,57.6),(65.01,58.48),(65.37,57.79),(65.24,57.31),(64.48,56.17),(63.68,55.03),(63.36,53.89),(62.71,53.03),(63.16,52.03),(62.51,51.12),(62.25,50)]
B_C29 = [(75.98,66.29),(76.69,65.83),(76.63,65.33),(76.24,64.33),(75.92,64.28),(75.35,64.93),(75.11,65.43),(75.35,66.03)]
B_C30 = [(75.98,72.67),(76.49,71.83),(76.43,71.23),(75.73,70.23),(75.35,69.43),(75.03,69.16),(74.64,69.43),(74.35,70.08),(74.58,70.73),(75.47,71.73),(75.79,72.53)]
B_L31 = [(67.67,50),(68.44,51.98),(69.21,53.22),(69.46,54.27),(70.17,55.32),(70.36,56.27),(71.12,57.22),(71.06,58.08),(71.51,58.93),(71.76,59.98),(72.4,60.74),(73.36,62.08),(73.55,63.03),(74.19,63.79),(74.58,64.36),(74.71,64.54),(75.03,64.84),(75.47,64.54),(75.79,63.86),(75.73,63.5),(75.09,62.46),(74.83,61.79),(75.09,61.03),(74.51,60.36),(74.45,59.31),(73.88,58.65),(72.92,57.03),(72.79,55.98),(72.02,55.22),(71.83,54.36),(71.76,53.89),(71,52.46),(70.1,51.03),(69.65,50)]
B_L32 = [(70.74,50),(72.15,52.36),(72.28,53.89),(73.04,54.46),(73.3,55.22),(73.62,56.74),(74.07,57.12),(74.58,57.89),(75.22,58.74),(75.47,59.98),(76.3,61.22),(76.5,62.55),(77.26,63.22),(77.77,64.36),(78.03,64.64),(78.93,65.64),(79.69,67.74),(80.08,68.34),(81.1,69.44),(82.19,71.03),(82.51,71.93),(82.64,72.73),(83.02,73.13),(84,74.83)]
B_L33 = [(84,64.64),(83.79,64.36),(82.63,63.12),(82.31,62.27),(81.36,61.5),(81.1,60.46),(80.46,59.79),(80.33,58.46),(79.57,57.31),(79.44,56.74),(79.32,55.89),(78.8,55.22),(78.61,54.36),(78.35,53.41),(78.03,53.27),(77.65,53.41),(77,53.98),(77.39,54.74),(77.39,55.22),(77,55.93),(76.62,54.98),(75.98,54.46),(74.96,53.12),(74.19,51.89),(73.17,50)]
B_L34 = [(84,63.1),(83.92,63.03),(83.53,61.89),(82.76,61.03),(82.19,59.79),(81.48,58.74),(81.23,57.79),(80.46,57.12),(80.21,55.79),(79.31,55.03),(79.31,54.27),(79.31,53.79),(78.29,53.03),(78.25,52.36),(78.67,51.31),(78.99,51.03),(79.31,51.27),(79.82,52.55),(80.78,53.12),(80.72,53.89),(80.72,54.27),(81.61,54.84),(81.8,55.31),(81.67,55.98),(82.63,56.93),(82.76,58.08),(84,59.03)]
B_L35 = [(84,58.74),(83.27,58.17),(83.21,57.03),(82.31,55.98),(82.19,55.12),(81.42,53.98),(80.84,52.84),(79.95,52.55),(79.7,51.03),(79.37,50)]
B_L36 = [(81.61,50),(82.38,51.79),(83.02,53.22),(84,53.98)]
B_L37 = [(83.15,50),(83.4,51.31),(84,52.08)]
B_L38 = [(74.7,50),(75.47,51.7),(75.73,52.27),(76.75,53.93),(77.07,53.98),(77.65,53.22),(77.78,52.55),(77.26,51.7),(76.75,51.03),(76.73,50)]
B_L39 = [(77.39,50),(77.39,51.03),(78.1,51.49),(78.67,51.31),(78.99,50.74),(78.42,50)]
B_L40 = [(65.31,50),(65.75,51.5),(66.07,51.6),(66.9,51.03),(66.97,50.65),(66.7,50)]
B_C41 = [(66.01,52.98),(66.84,53.39),(67.55,53.22),(67.86,52.74),(67.48,51.98),(67.1,51.08),(66.9,51.12)]
B_L42 = [(80.01,65.04),(80.4,65.55),(80.97,65.99),(80.5,65.45)]
B_L43 = [(60.93,51.17),(61.16,50.84),(61.06,50.17),(60.93,50.03),(60.74,50.46),(60.74,50.93),(60.93,51.17)]

B_TEXT = ["42", "32", "22", "12", "2"]
B_TEXT_X = [65.15, 64.55, 63.64, 63.89, 65.73]
B_TEXT_Y = [65.69, 64.35, 64.35, 63.14, 60.99]
B_TEXT_ANGLE = [0, -.6, -.9, -.5, 0]
B_TEXT_SIZE = [34, 34, 34, 34, 40]

AXIS_TITLE_X = ["X", "/km", "X", "/km"]
AXIS_TITLE_Y = ["Y", "/km"]


def rings(centre, E, NE, N, NW, W, SW, S, SE):
    out = []
    for ring in zip(E, NE, N, NW, W, SW, S, SE):
        pts = []
        for k, r in enumerate(ring):
            a = k * math.pi / 4
            pts.append((centre[0] + r * math.cos(a), centre[1] + r * math.sin(a)))
        out.append(pts)
    return out


def curve(pts, closed, acc):
    n = len(pts)
    if n < 2:
        return
    at = (lambda i: pts[i % n]) if closed else (lambda i: pts[max(0, min(n - 1, i))])
    for i in range(n if closed else n - 1):
        p0, p1, p2, p3 = at(i - 1), at(i), at(i + 1), at(i + 2)
        d = math.hypot(p2[0] - p1[0], p2[1] - p1[1])
        t1 = (p2[0] - p0[0], p2[1] - p0[1])
        t2 = (p3[0] - p1[0], p3[1] - p1[1])
        l1 = math.hypot(*t1) or 1
        l2 = math.hypot(*t2) or 1
        acc["x0"].append(p1[0]); acc["y0"].append(p1[1])
        acc["x1"].append(p2[0]); acc["y1"].append(p2[1])
        acc["cx0"].append(p1[0] + t1[0] / l1 * d / 3); acc["cy0"].append(p1[1] + t1[1] / l1 * d / 3)
        acc["cx1"].append(p2[0] - t2[0] / l2 * d / 3); acc["cy1"].append(p2[1] - t2[1] / l2 * d / 3)


def panel(prefix, core, islands, width, left, right):
    p = figure(width=width, height=1276, output_backend="svg", toolbar_location=None,
               x_range=Range1d(*X_RANGE), y_range=Range1d(*Y_RANGE),
               x_axis_location="below", y_axis_location="left",
               min_border_left=left, min_border_right=right, min_border_top=20, min_border_bottom=108,
               frame_width=1545, frame_height=1148, background_fill_color="white", border_fill_color="white")
    p.outline_line_color = None
    p.grid.visible = False
    bottom = p.below[0]
    lft = p.left[0]
    top = LinearAxis()
    rgt = LinearAxis()
    p.add_layout(top, "above")
    p.add_layout(rgt, "right")
    for ax, ticks in ((bottom, X_TICKS), (lft, Y_TICKS), (top, X_TICKS), (rgt, Y_TICKS)):
        ax.ticker = FixedTicker(ticks=ticks)
        ax.minor_tick_line_color = None
        ax.axis_line_color = INK
        ax.axis_line_width = 3.5
        ax.major_tick_line_color = INK
        ax.major_tick_line_width = 3.5
        ax.major_tick_out = 20
        ax.major_tick_in = 0
        ax.major_label_text_font = FONT
        ax.major_label_text_font_size = "62px"
        ax.major_label_text_color = INK
        ax.major_label_standoff = 14
    for ax in (top, rgt):
        ax.major_label_text_font_size = "0px"
        ax.major_label_standoff = 0
        ax.major_label_text_color = None

    acc = dict(x0=[], y0=[], x1=[], y1=[], cx0=[], cy0=[], cx1=[], cy1=[])
    for ring in core:
        curve(ring, True, acc)
    for name, val in list(globals().items()):
        if re.fullmatch(prefix + r"_L\d\d", name):
            curve(val, False, acc)
        elif re.fullmatch(prefix + r"_C\d\d", name):
            curve(val, True, acc)
    p.bezier("x0", "y0", "x1", "y1", "cx0", "cy0", "cx1", "cy1", source=ColumnDataSource(acc),
             line_color=INK, line_width=2.6)
    xs, ys, ws, hs, ts = zip(*islands)
    p.ellipse(x=list(xs), y=list(ys), width=list(ws), height=list(hs), angle=list(ts),
              fill_color=None, line_color=INK, line_width=2.6)
    return p


pa = panel("A", rings(A_CORE, A_R_E, A_R_NE, A_R_N, A_R_NW, A_R_W, A_R_SW, A_R_S, A_R_SE), A_ISLANDS, 1715, 119, 51)
pb = panel("B", rings(B_CORE, B_R_E, B_R_NE, B_R_N, B_R_NW, B_R_W, B_R_SW, B_R_S, B_R_SE), B_ISLANDS, 1685, 119, 21)


def note(p, x, y, text, size, angle=0.0, bg=None):
    p.add_layout(Label(x=x, y=y, text=text, angle=angle, text_align="center", text_baseline="middle",
                       text_font=FONT, text_font_size=f"{size}px", text_color=INK, background_fill_color=bg))


for t, x, y, a in zip(A_TEXT, A_TEXT_X, A_TEXT_Y, A_TEXT_ANGLE):
    note(pa, x, y, t, 30, a, "white")
for t, x, y, a, s in zip(B_TEXT, B_TEXT_X, B_TEXT_Y, B_TEXT_ANGLE, B_TEXT_SIZE):
    note(pb, x, y, t, s, a, "white")
note(pa, 80.15, 51.4, "(a)", 62)
note(pb, 81.3, 51.4, "(b)", 62)


def strip(width, height):
    s = figure(width=width, height=height, output_backend="svg", toolbar_location=None,
               x_range=Range1d(0, width), y_range=Range1d(0, height), min_border=0,
               x_axis_location=None, y_axis_location=None, background_fill_color="white", border_fill_color="white")
    s.outline_line_color = None
    s.grid.visible = False
    return s


def title_piece(s, x, y, text, italic, angle=0.0):
    s.text(x=[x], y=[y], text=[text], angle=angle, text_align="left", text_baseline="middle",
           text_font=value(FONT), text_font_size="62px", text_color=INK,
           text_font_style="italic" if italic else "normal")


# strip of y-axis title, left of panel (a)
y_strip = strip(75, 1276)
title_piece(y_strip, 36, 554, AXIS_TITLE_Y[0], True, math.pi / 2)
title_piece(y_strip, 36, 592, AXIS_TITLE_Y[1], False, math.pi / 2)

# strip of x-axis titles, under both panels
x_strip = strip(3475, 74)
title_piece(x_strip, 882, 38, AXIS_TITLE_X[0], True)
title_piece(x_strip, 920, 38, AXIS_TITLE_X[1], False)
title_piece(x_strip, 2605, 38, AXIS_TITLE_X[2], True)
title_piece(x_strip, 2643, 38, AXIS_TITLE_X[3], False)

layout = column(row(y_strip, pa, pb, spacing=0), x_strip, spacing=0)
open("out.html", "w").write(file_html(layout, INLINE))
